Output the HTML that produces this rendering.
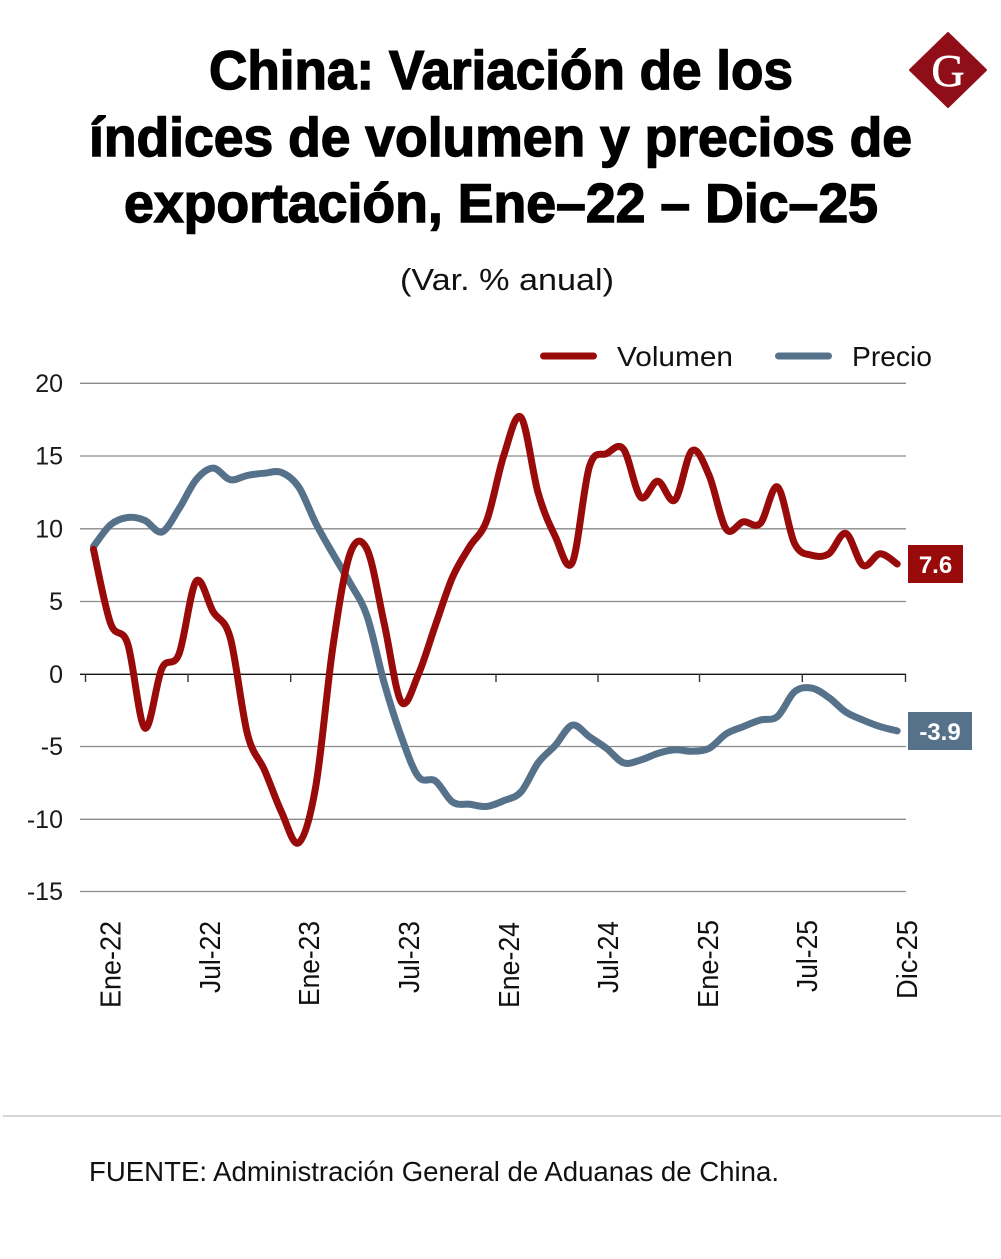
<!DOCTYPE html>
<html>
<head>
<meta charset="utf-8">
<style>
html,body{margin:0;padding:0;background:#fff;}
svg{display:block;}
text{font-family:"Liberation Sans",sans-serif;}
</style>
</head>
<body>
<svg width="1001" height="1259" viewBox="0 0 1001 1259" xmlns="http://www.w3.org/2000/svg">
<rect width="1001" height="1259" fill="#fff"/>

<!-- Title -->
<g font-weight="bold" fill="#000" stroke="#000" stroke-width="1.4" font-size="55">
<text x="209" y="89" textLength="584" lengthAdjust="spacingAndGlyphs">China: Variación de los</text>
<text x="89" y="156" textLength="823" lengthAdjust="spacingAndGlyphs">índices de volumen y precios de</text>
<text x="124" y="222" textLength="754" lengthAdjust="spacingAndGlyphs">exportación, Ene–22 – Dic–25</text>
</g>
<text x="400" y="290" font-size="31" fill="#111" textLength="214" lengthAdjust="spacingAndGlyphs">(Var. % anual)</text>

<!-- Logo -->
<polygon points="948,33 986,70 948,107 910,70" fill="#8f0e18" stroke="#8f0e18" stroke-width="2" stroke-linejoin="round"/>
<text x="948" y="86" font-size="46" fill="#fff" text-anchor="middle" stroke="#fff" stroke-width="0.6" style="font-family:'Liberation Serif',serif">G</text>

<!-- Legend -->
<line x1="543.5" y1="356" x2="593.5" y2="356" stroke="#990a0a" stroke-width="7" stroke-linecap="round"/>
<text x="617" y="366" font-size="28" fill="#111" textLength="116" lengthAdjust="spacingAndGlyphs">Volumen</text>
<line x1="778.5" y1="356" x2="828.5" y2="356" stroke="#56728b" stroke-width="7" stroke-linecap="round"/>
<text x="852" y="366" font-size="28" fill="#111" textLength="80" lengthAdjust="spacingAndGlyphs">Precio</text>

<!-- Grid -->
<g stroke="#8a8a8a" stroke-width="1.3">
<line x1="80" y1="383.3" x2="906" y2="383.3"/>
<line x1="80" y1="456" x2="906" y2="456"/>
<line x1="80" y1="528.8" x2="906" y2="528.8"/>
<line x1="80" y1="601.5" x2="906" y2="601.5"/>
<line x1="80" y1="746.5" x2="906" y2="746.5"/>
<line x1="80" y1="819.3" x2="906" y2="819.3"/>
<line x1="80" y1="891.5" x2="906" y2="891.5"/>
</g>
<line x1="80" y1="674.3" x2="906" y2="674.3" stroke="#111" stroke-width="1.4"/>
<g stroke="#333" stroke-width="1.4">
<line x1="85.5" y1="674" x2="85.5" y2="682"/>
<line x1="188" y1="674" x2="188" y2="682"/>
<line x1="290.7" y1="674" x2="290.7" y2="682"/>
<line x1="393.3" y1="674" x2="393.3" y2="682"/>
<line x1="496" y1="674" x2="496" y2="682"/>
<line x1="598" y1="674" x2="598" y2="682"/>
<line x1="699.5" y1="674" x2="699.5" y2="682"/>
<line x1="802.3" y1="674" x2="802.3" y2="682"/>
<line x1="905.5" y1="674" x2="905.5" y2="682"/>
</g>

<!-- Y labels -->
<g font-size="25" fill="#1a1a1a" text-anchor="end">
<text x="63" y="392">20</text>
<text x="63" y="464.7">15</text>
<text x="63" y="537.5">10</text>
<text x="63" y="610.2">5</text>
<text x="63" y="683">0</text>
<text x="63" y="755.2">-5</text>
<text x="63" y="828">-10</text>
<text x="63" y="900.2">-15</text>
</g>

<!-- X labels -->
<g font-size="29" fill="#111" text-anchor="end">
<text transform="translate(120.7 921) rotate(-90)" textLength="87" lengthAdjust="spacingAndGlyphs">Ene-22</text>
<text transform="translate(220 921) rotate(-90)" textLength="72" lengthAdjust="spacingAndGlyphs">Jul-22</text>
<text transform="translate(319 921) rotate(-90)" textLength="85" lengthAdjust="spacingAndGlyphs">Ene-23</text>
<text transform="translate(419 921) rotate(-90)" textLength="72" lengthAdjust="spacingAndGlyphs">Jul-23</text>
<text transform="translate(519 922) rotate(-90)" textLength="86" lengthAdjust="spacingAndGlyphs">Ene-24</text>
<text transform="translate(618 921) rotate(-90)" textLength="72" lengthAdjust="spacingAndGlyphs">Jul-24</text>
<text transform="translate(718 920) rotate(-90)" textLength="88" lengthAdjust="spacingAndGlyphs">Ene-25</text>
<text transform="translate(817 920) rotate(-90)" textLength="72" lengthAdjust="spacingAndGlyphs">Jul-25</text>
<text transform="translate(917 920) rotate(-90)" textLength="79" lengthAdjust="spacingAndGlyphs">Dic-25</text>
</g>

<!-- Series -->
<g transform="translate(93.5 674.3) scale(17.1 -14.52)" fill="none" stroke-linejoin="round" stroke-linecap="round">
<path id="pre" vector-effect="non-scaling-stroke" stroke="#56728b" stroke-width="7" d="M0 8.8 L1 10.3 L2 10.8 L3 10.6 L4 9.8 L5 11.4 L6 13.4 L7 14.2 L8 13.4 L9 13.7 L10 13.85 L11 13.9 L12 12.9 L13 10.4 L14 8.3 L15 6.3 L16 4 L17 -0.6 L18 -4.3 L19 -7.05 L20 -7.35 L21 -8.8 L22 -8.95 L23 -9.1 L24 -8.7 L25 -8.1 L26 -6.1 L27 -4.9 L28 -3.5 L29 -4.3 L30 -5.1 L31 -6.1 L32 -5.9 L33 -5.45 L34 -5.2 L35 -5.3 L36 -5.1 L37 -4.1 L38 -3.6 L39 -3.15 L40 -2.9 L41 -1.2 L42 -0.95 L43 -1.6 L44 -2.6 L45 -3.15 L46 -3.6 L47 -3.9"/>
<path id="vol" vector-effect="non-scaling-stroke" stroke="#990a0a" stroke-width="7" d="M0 8.6 L1 3.5 L2 2.1 L3 -3.7 L4 0.4 L5 1.4 L6 6.4 L7 4.3 L8 2.5 L9 -4.1 L10 -6.6 L11 -9.5 L12 -11.6 L13 -7.7 L14 1.9 L15 8.3 L16 8.6 L17 3.5 L18 -1.9 L19 0 L20 3.4 L21 6.7 L22 8.8 L23 10.6 L24 15.1 L25 17.7 L26 12.5 L27 9.5 L28 7.7 L29 14.3 L30 15.2 L31 15.5 L32 12.2 L33 13.3 L34 12 L35 15.4 L36 13.7 L37 10 L38 10.5 L39 10.4 L40 12.9 L41 9 L42 8.2 L43 8.3 L44 9.7 L45 7.5 L46 8.3 L47 7.6"/>
</g>

<!-- End labels -->
<rect x="908" y="545" width="55" height="38" fill="#990a0a"/>
<text x="935.5" y="573" font-size="24" font-weight="bold" fill="#fff" text-anchor="middle">7.6</text>
<rect x="908" y="712" width="64" height="38" fill="#56728b"/>
<text x="940" y="740" font-size="24" font-weight="bold" fill="#fff" text-anchor="middle">-3.9</text>

<!-- Footer -->
<line x1="3" y1="1116" x2="1001" y2="1116" stroke="#c8c8c8" stroke-width="1.5"/>
<text x="89" y="1181" font-size="28" fill="#111" textLength="690" lengthAdjust="spacingAndGlyphs">FUENTE: Administración General de Aduanas de China.</text>
</svg>
<script>
(function(){
function smooth(v){
  var n=v.length, d='M0 '+v[0];
  for(var i=0;i<n-1;i++){
    var y0=v[i-1]!==undefined?v[i-1]:v[i], x0=i>0?i-1:i;
    var y1=v[i], y2=v[i+1];
    var y3=v[i+2]!==undefined?v[i+2]:v[i+1], x3=i+2<n?i+2:i+1;
    var c1x=i+(i+1-x0)/6, c1y=y1+(y2-y0)/6;
    var c2x=i+1-(x3-i)/6, c2y=y2-(y3-y1)/6;
    d+=' C'+c1x.toFixed(3)+' '+c1y.toFixed(3)+' '+c2x.toFixed(3)+' '+c2y.toFixed(3)+' '+(i+1)+' '+y2;
  }
  return d;
}
function parse(id){
  var el=document.getElementById(id);
  var nums=el.getAttribute('d').replace(/[ML]/g,' ').trim().split(/\s+/).map(Number);
  var v=[];for(var i=1;i<nums.length;i+=2)v.push(nums[i]);
  el.setAttribute('d',smooth(v));
}
parse('pre');parse('vol');
})();
</script>
</body>
</html>
